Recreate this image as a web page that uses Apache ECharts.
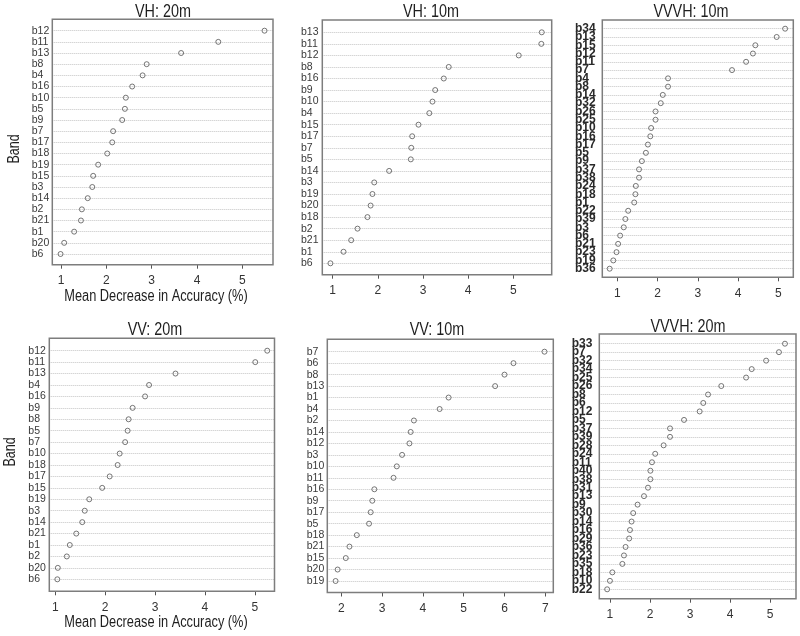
<!DOCTYPE html>
<html><head><meta charset="utf-8">
<script src="https://cdn.jsdelivr.net/npm/echarts@6/dist/echarts.min.js"></script>
<style>html,body{margin:0;padding:0;background:#fff}#c{width:800px;height:636px}</style>
</head><body><div id="c"></div><script>
// ---- data ----
const vh20Bands = ['b12','b11','b13','b8','b4','b16','b10','b5','b9','b7','b17','b18','b19','b15','b3','b14','b2','b21','b1','b20','b6'];
const vh20Values = [5.49,4.47,3.65,2.89,2.80,2.57,2.43,2.41,2.35,2.15,2.13,2.02,1.82,1.71,1.69,1.59,1.46,1.44,1.29,1.07,0.99];
const vh20Ticks = [1,2,3,4,5];

const vh10Bands = ['b13','b11','b12','b8','b16','b9','b10','b4','b15','b17','b7','b5','b14','b3','b19','b20','b18','b2','b21','b1','b6'];
const vh10Values = [5.63,5.62,5.12,3.57,3.46,3.27,3.21,3.14,2.90,2.76,2.74,2.73,2.25,1.92,1.88,1.84,1.77,1.55,1.41,1.24,0.95];
const vh10Ticks = [1,2,3,4,5];

const vvvh10Bands = ['b34','b13','b15','b12','b11','b7','b4','b8','b14','b32','b26','b25','b10','b16','b17','b5','b9','b37','b38','b24','b18','b1','b22','b39','b3','b6','b21','b23','b19','b36'];
const vvvh10Values = [5.17,4.96,4.43,4.37,4.20,3.85,2.26,2.26,2.13,2.08,1.95,1.95,1.84,1.82,1.76,1.71,1.61,1.54,1.54,1.46,1.45,1.42,1.27,1.20,1.16,1.07,1.02,0.98,0.90,0.81];
const vvvh10Ticks = [1,2,3,4,5];

const vv20Bands = ['b12','b11','b13','b4','b16','b9','b8','b5','b7','b10','b18','b17','b15','b19','b3','b14','b21','b1','b2','b20','b6'];
const vv20Values = [5.25,5.01,3.41,2.88,2.80,2.55,2.47,2.45,2.40,2.29,2.25,2.09,1.94,1.68,1.59,1.54,1.42,1.29,1.23,1.05,1.04];
const vv20Ticks = [1,2,3,4,5];

const vv10Bands = ['b7','b6','b8','b13','b1','b4','b2','b14','b12','b3','b10','b11','b16','b9','b17','b5','b18','b21','b15','b20','b19'];
const vv10Values = [6.98,6.22,6.00,5.77,4.63,4.41,3.78,3.70,3.67,3.49,3.36,3.28,2.81,2.76,2.72,2.68,2.38,2.20,2.11,1.91,1.86];
const vv10Ticks = [2,3,4,5,6,7];

const vvvh20Bands = ['b33','b7','b32','b34','b25','b26','b8','b6','b12','b5','b37','b39','b28','b24','b11','b40','b38','b31','b13','b9','b30','b14','b16','b29','b36','b23','b35','b18','b10','b22'];
const vvvh20Values = [5.37,5.22,4.90,4.54,4.40,3.78,3.45,3.33,3.24,2.85,2.50,2.50,2.34,2.13,2.05,2.01,2.01,1.95,1.85,1.69,1.58,1.54,1.50,1.48,1.39,1.35,1.31,1.06,1.00,0.93];
const vvvh20Ticks = [1,2,3,4,5];

const panelTitles = ['VH: 20m','VH: 10m','VVVH: 10m','VV: 20m','VV: 10m','VVVH: 20m'];
const xTitle = 'Mean Decrease in Accuracy (%)';
const yTitle = 'Band';

// ---- layout ----
const FONT = '"Liberation Sans",Arial,sans-serif';
const panels = [
  {bands:vh20Bands, values:vh20Values, ticks:vh20Ticks, box:[52.3,19.3,273,264.7], rows:[30.7,254], x:[0.808,5.677], lab:10.5, bold:false, labM:20.6, title:[163,12.3]},
  {bands:vh10Bands, values:vh10Values, ticks:vh10Ticks, box:[322.3,20,551.7,274.7], rows:[32.3,263.3], x:[0.770,5.850], lab:10.5, bold:false, labM:21.3, title:[431,12.3]},
  {bands:vvvh10Bands, values:vvvh10Values, ticks:vvvh10Ticks, box:[602.3,20,793.3,277.3], rows:[28.7,268.7], x:[0.627,5.373], lab:12, bold:true, labM:27.3, title:[691,12.5]},
  {bands:vv20Bands, values:vv20Values, ticks:vv20Ticks, box:[49.3,338.3,274.5,591.3], rows:[350.7,579.3], x:[0.879,5.396], lab:10.5, bold:false, labM:21, title:[155,330]},
  {bands:vv10Bands, values:vv10Values, ticks:vv10Ticks, box:[327.3,339.3,553.3,592.5], rows:[351.7,581], x:[1.657,7.196], lab:10.5, bold:false, labM:20.6, title:[437,330]},
  {bands:vvvh20Bands, values:vvvh20Values, ticks:vvvh20Ticks, box:[599.3,334,796,598.7], rows:[343.7,589.3], x:[0.734,5.646], lab:12, bold:true, labM:27.6, title:[688,327]}
];

const grid = [], xAxis = [], yAxis = [], series = [], graphic = [];
panels.forEach((p, i) => {
  const [l, t, r, b] = p.box;
  const gi = grid.length;
  grid.push({left:l, top:t, width:r-l, height:b-t, show:true, borderColor:'#7d7d7d', borderWidth:1.5, backgroundColor:'transparent', z:5});
  xAxis.push({gridIndex:gi, type:'value', show:false, min:0, max:1});
  yAxis.push({gridIndex:gi, type:'value', show:false, min:0, max:1});
  const di = grid.length;
  grid.push({left:l, top:p.rows[0], width:r-l, height:p.rows[1]-p.rows[0]});
  xAxis.push({
    gridIndex:di, type:'value', min:p.x[0], max:p.x[1], offset:b - p.rows[1],
    axisLine:{show:false},
    axisTick:{show:true, customValues:p.ticks, length:4, lineStyle:{color:'#555', width:1}},
    axisLabel:{customValues:p.ticks, margin:10, fontSize:12, color:'#333', fontFamily:FONT},
    splitLine:{show:false}
  });
  yAxis.push({
    gridIndex:di, type:'category', data:p.bands, inverse:true, boundaryGap:false,
    axisLine:{show:false}, axisTick:{show:false},
    axisLabel:{interval:0, align:'left', margin:p.labM, fontSize:p.lab, fontWeight:p.bold ? 'bold' : 'normal',
               color:p.bold ? '#2a2a2a' : '#3a3a3a', fontFamily:FONT},
    splitLine:{show:true, interval:0, lineStyle:{type:'dotted', color:'#c4c4c4', width:1}}
  });
  series.push({
    type:'scatter', xAxisIndex:di, yAxisIndex:di, symbol:'circle', symbolSize:5,
    itemStyle:{color:'rgba(255,255,255,0)', borderColor:'#555', borderWidth:1},
    data:p.values.map((v, k) => [v, p.bands[k]]), z:10
  });
  graphic.push({type:'text', x:p.title[0], y:p.title[1], scaleX:0.8,
    style:{text:panelTitles[i], font:'18px ' + FONT, fill:'#1e1e1e', align:'center', verticalAlign:'middle'}});
});
graphic.push({type:'text', x:156, y:297, scaleX:0.8, style:{text:xTitle, font:'16px ' + FONT, fill:'#1e1e1e', align:'center', verticalAlign:'middle'}});
graphic.push({type:'text', x:156, y:623, scaleX:0.8, style:{text:xTitle, font:'16px ' + FONT, fill:'#1e1e1e', align:'center', verticalAlign:'middle'}});
graphic.push({type:'text', x:15, y:149, rotation:Math.PI/2, scaleX:0.78, style:{text:yTitle, font:'16px ' + FONT, fill:'#1e1e1e', align:'center', verticalAlign:'middle'}});
graphic.push({type:'text', x:11, y:452, rotation:Math.PI/2, scaleX:0.78, style:{text:yTitle, font:'16px ' + FONT, fill:'#1e1e1e', align:'center', verticalAlign:'middle'}});

const chart = echarts.init(document.getElementById('c'), null, {renderer:'canvas'});
chart.setOption({animation:false, backgroundColor:'#fff', grid, xAxis, yAxis, series, graphic});
</script></body></html>
